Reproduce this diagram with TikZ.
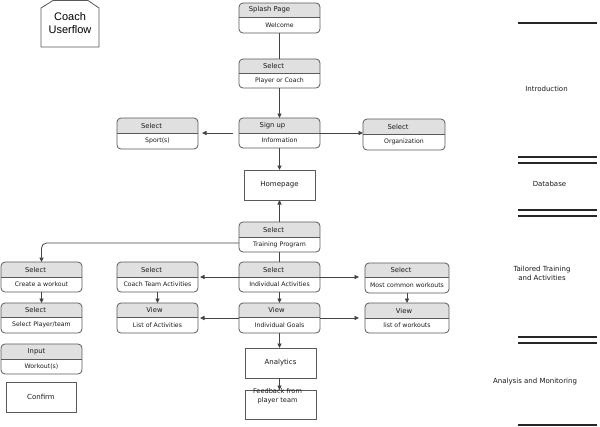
\documentclass[tikz,border=0pt]{standalone}
\usepackage{fontspec}
\setmainfont{DejaVu Sans}
\newfontfamily\arialfont{Liberation Sans}
\usetikzlibrary{arrows.meta,calc}
\definecolor{hdr}{HTML}{E0E0E0}
\definecolor{bord}{HTML}{5A5A5A}
\definecolor{conncol}{HTML}{444444}
\definecolor{txt}{HTML}{1A1A1A}
\tikzset{
 boxline/.style={draw=bord, line width=0.8pt},
 hdrtxt/.style={font=\fontsize{6.8}{8}\selectfont, inner sep=0pt, text=txt},
 bodytxt/.style={font=\fontsize{6.2}{7.5}\selectfont, inner sep=0pt, text=txt},
 plainbox/.style={draw=bord, line width=0.8pt, font=\fontsize{7}{8.5}\selectfont, inner sep=0pt, outer sep=0pt, anchor=north west, text=txt},
 conn/.style={draw=conncol, line width=0.8pt},
 arr/.style={conn, -{Triangle[length=4.5pt,width=4.2pt]}},
 secline/.style={draw=black!85, line width=1.1pt},
 sectxt/.style={font=\fontsize{7}{9}\selectfont, align=center, inner sep=0pt, text=txt},
}
\newcommand{\swbox}[9]{%
 \node[inner sep=0pt, outer sep=0pt, anchor=north west, minimum width={(#4-#2)*1pt}, minimum height={(#5-#3)*1pt}] (#1) at (#2,#3) {};
 \begin{scope}
 \clip[rounded corners=4pt] (#1.north west) rectangle (#1.south east);
 \fill[white] (#1.north west) rectangle (#1.south east);
 \fill[hdr] (#1.north west) rectangle (#4,#6);
 \end{scope}
 \draw[boxline] (#2,#6) -- (#4,#6);
 \draw[boxline, rounded corners=4pt] (#1.north west) rectangle (#1.south east);
 \node[hdrtxt] (#1-h) at ({(#2+#4)/2+(#9)},{(#3+#6)/2}) {#7};
 \node[bodytxt] (#1-b) at ({(#2+#4)/2},{(#6+#5)/2}) {#8};
}
\begin{document}
\begin{tikzpicture}[x=1pt,y=-1pt]
\useasboundingbox (0,0) rectangle (600,426);
\fill[white] (0,0) rectangle (600,426);

% title
\node[inner sep=0pt, outer sep=0pt, anchor=north west, minimum width=58pt, minimum height=46.5pt] (title) at (41,0.5) {};
\draw[boxline] (title.south west) -- ($(title.north west)+(0,7.5)$) -- ($(title.north west)+(12,0)$) -- ($(title.north east)+(-11,0)$) -- ($(title.north east)+(0,7.5)$) -- (title.south east) -- cycle;
\node[font=\arialfont\fontsize{11}{13}\selectfont, align=center, inner sep=0pt] (title-t) at (70,23) {Coach\\Userflow};

% swimlane boxes
\swbox{splash}{239}{3}{320}{33}{17}{Splash Page}{Welcome}{-10}
\swbox{pc}{239}{59}{320}{88}{73}{Select}{Player or Coach}{-6}
\swbox{signup}{239}{118}{320}{148}{133}{Sign up}{Information}{-7}
\swbox{sport}{117}{118}{198}{149}{133}{Select}{Sport(s)}{-6}
\swbox{org}{363}{119}{445}{150}{134}{Select}{Organization}{-6}
\swbox{training}{239}{222}{320}{252}{237}{Select}{Training Program}{-6}
\swbox{indact}{239}{262}{320}{292}{277}{Select}{Individual Activities}{-6}
\swbox{goals}{239}{303}{320}{333}{317}{View}{Individual Goals}{-3}
\swbox{create}{1}{262}{82}{292}{277}{Select}{Create a workout}{-6}
\swbox{selpt}{1}{303}{82}{333}{317}{Select}{Select Player/team}{-6}
\swbox{input}{1}{344}{82}{374}{359}{Input}{Workout(s)}{-5}
\swbox{coachteam}{117}{262}{198}{292}{277}{Select}{Coach Team Activities}{-6}
\swbox{listact}{117}{303}{198}{333}{317}{View}{List of Activities}{-3}
\swbox{common}{365}{263}{449}{293}{277}{Select}{Most common workouts}{-6}
\swbox{listwork}{365}{303}{449}{333}{318}{View}{list of workouts}{-3}

% plain boxes
\node[plainbox, minimum width=71pt, minimum height=30pt] (home) at (244,170) {Homepage};
\node[plainbox, minimum width=71pt, minimum height=30pt] (analytics) at (245,348) {Analytics};
\node[plainbox, minimum width=71pt, minimum height=29pt] (feedback) at (245,390) {};
\node[font=\fontsize{6.6}{9}\selectfont, align=center, inner sep=0pt, text=txt] (feedback-t) at (277.5,396.5) {Feedback from\\player team};
\node[plainbox, minimum width=70pt, minimum height=30pt] (confirm) at (6,382) {Confirm};

% connectors
\draw[conn] (splash.south) -- (pc.north);
\draw[arr] (pc.south) -- (signup.north);
\draw[arr] ($(signup.west)+(-6,0)$) -- ($(sport.east |- signup.west)+(4,0)$);
\draw[arr] (signup.east) -- (org.west |- signup.east);
\draw[arr] (signup.south) -- (home.north -| signup.south);
\draw[arr] (training.north) -- (home.south -| training.north);
\draw[arr, rounded corners=5pt] ($(training.west)+(0,6)$) -| (create.north);
\draw[conn] (training.south) -- (indact.north);
\draw[arr] (indact.west) -- ($(coachteam.east |- indact.west)+(2,0)$);
\draw[arr] (indact.east) -- ($(common.west |- indact.east)+(-6,0)$);
\draw[arr] (indact.south) -- (goals.north);
\draw[arr] (goals.west) -- ($(listact.east |- goals.west)+(2,0)$);
\draw[arr] (goals.east) -- ($(listwork.west |- goals.east)+(-6,0)$);
\draw[arr] (goals.south) -- (goals.south |- analytics.north);
\draw[arr] (analytics.south -| goals.south) -- (goals.south |- feedback.north);
\draw[arr] (create.south) -- (selpt.north);
\draw[arr] (coachteam.south) -- (listact.north);
\draw[arr] (common.south) -- (listwork.north);

% sections on the right
\draw[secline] (518,23) -- (597,23);
\draw[secline] (518,157) -- (597,157);
\draw[secline] (518,163) -- (597,163);
\draw[secline] (518,210) -- (597,210);
\draw[secline] (518,216) -- (597,216);
\draw[secline] (518,337) -- (597,337);
\draw[secline] (518,343) -- (597,343);
\draw[secline] (518,425) -- (597,425);
\node[sectxt] (sec-intro) at (546.5,89) {Introduction};
\node[sectxt] (sec-db) at (549.5,184) {Database};
\node[sectxt] (sec-train) at (542,273) {Tailored Training\\ and Activities};
\node[sectxt] (sec-anal) at (535,382) {Analysis and Monitoring};
\end{tikzpicture}
\end{document}
